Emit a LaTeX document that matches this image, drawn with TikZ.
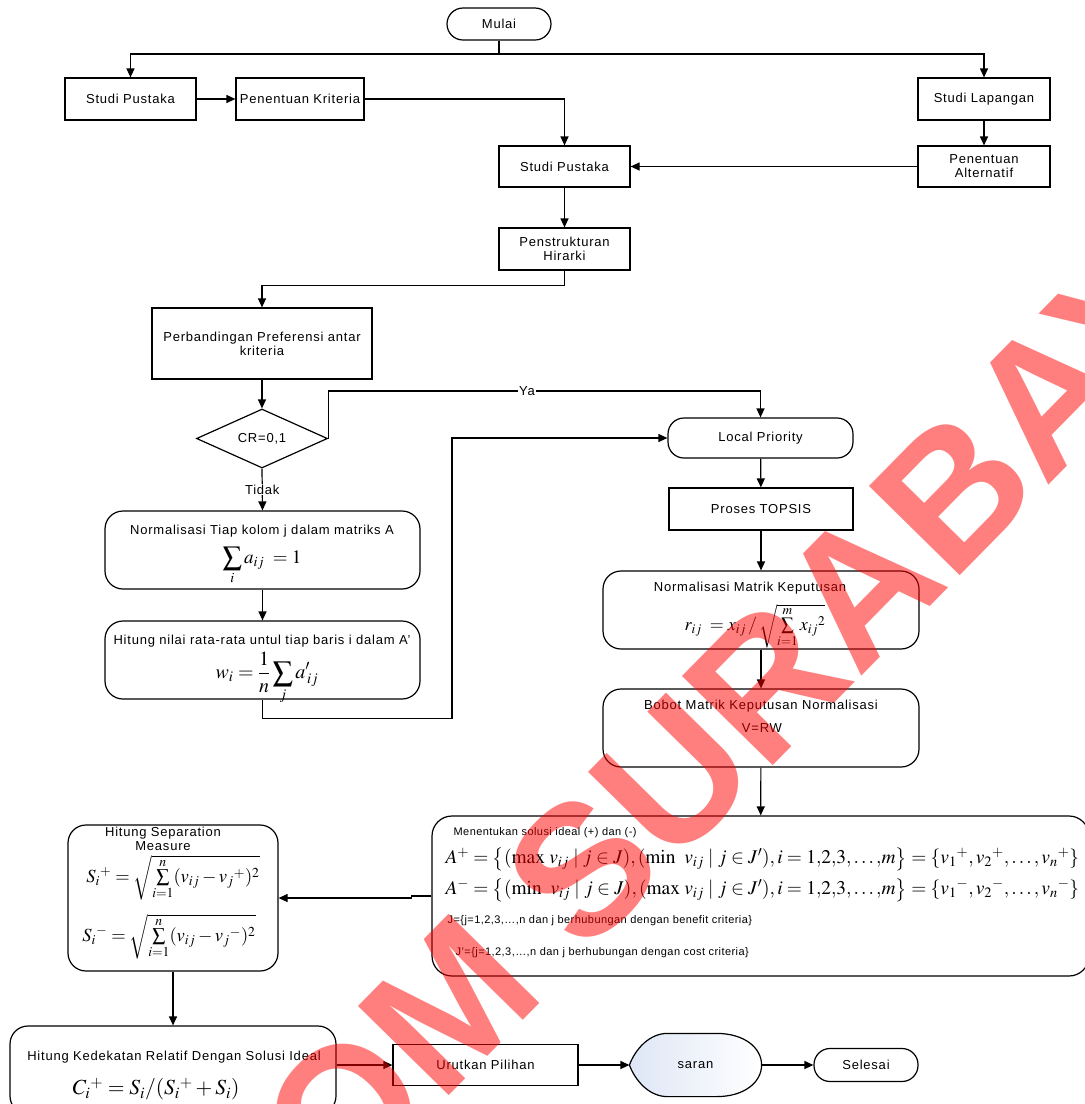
\documentclass[tikz,border=0pt]{standalone}
\usepackage{mathptmx}
\usepackage[no-math]{fontspec}
\setmainfont{Liberation Sans}[LetterSpace=6]
\newfontfamily\smallfont{Liberation Sans}[LetterSpace=4]
\newfontfamily\wmfont{Liberation Sans Bold}
\usetikzlibrary{arrows.meta,shapes.geometric}
\definecolor{sfill}{RGB}{222,230,246}
\begin{document}
\begin{tikzpicture}[x=1pt,y=-1pt,
  line width=1.2pt,
  lab/.style={font=\fontsize{13}{14}\selectfont},
  box/.style={draw, line width=1.2pt, inner sep=0pt, align=center, lab},
  rbox/.style={box, rounded corners=18pt},
  txt/.style={inner sep=0pt, align=center, lab},
  stxt/.style={inner sep=0pt, anchor=west, font=\smallfont\fontsize{11}{13}\selectfont},
  fml/.style={inner sep=0pt, font=\fontsize{#1}{#1}\selectfont},
  arr/.style={-{Triangle[length=9pt,width=8pt]}},
  lbl/.style={fill=white, inner sep=1pt, lab},
  wm/.style={inner sep=0pt, text=red, text opacity=0.5, font=\wmfont\fontsize{185}{185}\selectfont}]
\useasboundingbox (0,0) rectangle (1085,1104);

% top part
\node[box, rounded corners=16pt, minimum width=104, minimum height=32] (mulai) at (499,24) {Mulai};
\node[box, minimum width=131, minimum height=42] (sp1) at (130.5,99) {Studi Pustaka};
\node[box, minimum width=128, minimum height=42] (pk) at (300,99) {Penentuan Kriteria};
\node[box, minimum width=132, minimum height=42] (sl) at (984,99) {Studi Lapangan};
\node[box, minimum width=131, minimum height=41] (sp2) at (564.5,166.5) {Studi Pustaka};
\node[box, minimum width=132, minimum height=41] (pa) at (984,166.5) {Penentuan\\Alternatif};
\node[box, minimum width=131, minimum height=42] (ph) at (564.5,249) {Penstrukturan\\Hirarki};
\node[box, minimum width=220, minimum height=71] (pp) at (262,343.5) {Perbandingan Preferensi antar\\kriteria};
\node[draw, diamond, aspect=2.2, inner sep=0pt, minimum width=131, minimum height=59, lab] (cr) at (262,438.5) {CR=0,1};

% left column
\node[rbox, minimum width=315, minimum height=78] (nk) at (262.5,550) {};
\node[txt] (nkt) at (262,531) {Normalisasi Tiap kolom j dalam matriks A};
\node[fml=19] (nkf) at (262,566) {$\displaystyle\sum_{i} a_{ij}\; = 1$};
\node[rbox, minimum width=315, minimum height=78] (hn) at (262.5,660) {};
\node[txt] (hnt) at (262,641) {Hitung nilai rata-rata untul tiap baris i dalam A’};
\node[fml=20] (hnf) at (267,678) {$\displaystyle w_{i} = \frac{1}{n}\sum_{j} a'_{\,ij}$};

% right column
\node[box, rounded corners=16pt, minimum width=185, minimum height=40] (lp) at (760.5,438) {Local Priority};
\node[box, minimum width=184, minimum height=42] (pt) at (761,509) {Proses TOPSIS};
\node[rbox, minimum width=316, minimum height=78] (nm) at (761,610) {};
\node[txt] (nmt) at (750,588) {Normalisasi Matrik Keputusan};
\node[fml=18] (nmf) at (755,626) {$r_{ij} \;= x_{ij} \,/\, \sqrt{\sum\limits_{i=1}^{m} x_{ij}{}^{2}}$};
\node[rbox, minimum width=316, minimum height=78] (bb) at (761,728) {};
\node[txt] (bbt) at (761,706) {Bobot Matrik Keputusan Normalisasi};
\node[txt] (bbf) at (762,728) {V=RW};

% ideal solution box
\node[rbox, rounded corners=20pt, minimum width=657, minimum height=160] (mn) at (760.5,896) {};
\node[stxt] (mnt) at (453,833) {Menentukan solusi ideal (+) dan (-)};
\node[fml=19.4, anchor=west] (mnf1) at (445,859) {$A^{+} = \bigl\{(\max\, v_{ij} \mid j\in J), (\min\ v_{ij} \mid j\in J'), i = 1{,}2{,}3{,}\ldots{,}m\bigr\} = \{v_{1}{}^{+}, v_{2}{}^{+}, \ldots, v_{n}{}^{+}\}$};
\node[fml=19.4, anchor=west] (mnf2) at (445,890) {$A^{-} = \bigl\{(\min\ v_{ij} \mid j\in J), (\max\, v_{ij} \mid j\in J'), i = 1{,}2{,}3{,}\ldots{,}m\bigr\} = \{v_{1}{}^{-}, v_{2}{}^{-}, \ldots, v_{n}{}^{-}\}$};
\node[stxt] (mnj1) at (447,921) {J=\{j=1,2,3,…,n dan j berhubungan dengan benefit criteria\}};
\node[stxt] (mnj2) at (455,953) {J’=\{j=1,2,3,…,n dan j berhubungan dengan cost criteria\}};

% separation box
\node[rbox, minimum width=210, minimum height=146] (hs) at (173,898) {};
\node[txt] (hst) at (163,839) {Hitung Separation\\Measure};
\node[fml=18.5] (hsf1) at (173,878) {$S_{i}{}^{+} = \sqrt{\sum\limits_{i=1}^{n} (v_{ij} - v_{j}{}^{+})^{2}}$};
\node[fml=18.5] (hsf2) at (169,937) {$S_{i}{}^{-} = \sqrt{\sum\limits_{i=1}^{n} (v_{ij} - v_{j}{}^{-})^{2}}$};

% bottom row
\node[rbox, minimum width=326, minimum height=88] (kd) at (173,1070) {};
\node[txt] (kdt) at (174,1057) {Hitung Kedekatan Relatif Dengan Solusi Ideal};
\node[fml=21.5] (kdf) at (156,1089) {$C_{i}{}^{+} = S_{i} / (S_{i}{}^{+} + S_{i})$};
\node[box, minimum width=185, minimum height=41] (ur) at (485.5,1065) {Urutkan Pilihan};
\node[inner sep=0pt, minimum width=131, minimum height=62, lab] (sr) at (695.5,1065) {};
\path[draw, left color=sfill, right color=white]
  (sr.west) .. controls ([shift={(6,-16)}]sr.west) and ([shift={(20,0)}]sr.north west) .. ([shift={(38,0)}]sr.north west)
  -- ([shift={(-45,0)}]sr.north east)
  .. controls ([shift={(-17,0)}]sr.north east) and ([shift={(0,-17)}]sr.east) .. (sr.east)
  .. controls ([shift={(0,17)}]sr.east) and ([shift={(-17,0)}]sr.south east) .. ([shift={(-45,0)}]sr.south east)
  -- ([shift={(38,0)}]sr.south west)
  .. controls ([shift={(20,0)}]sr.south west) and ([shift={(6,16)}]sr.west) .. (sr.west) -- cycle;
\node[txt] (srt) at (sr) {saran};
\node[box, rounded corners=16pt, minimum width=104, minimum height=33] (sel) at (866,1065) {Selesai};

% connectors
\coordinate (j1) at (499,54);
\coordinate (yk) at (0,391);
\coordinate (jx) at (452,438);
\draw (mulai.south) -- (j1);
\draw[arr] (j1) -| (sp1.north);
\draw[arr] (j1) -| (sl.north);
\draw[arr] (sp1) -- (pk);
\draw[arr] (pk.east) -| (sp2.north);
\draw[arr] (sl) -- (pa);
\draw[arr] (pa) -- (sp2);
\draw[arr] (sp2) -- (ph);
\draw[arr] (ph.south) -- ++(0,15) -| (pp.north);
\draw[arr] (pp) -- (cr);
\draw[arr] (cr.east) -- (cr.east |- yk) -| node[pos=0.23, lbl] {Ya} (lp.north);
\draw[arr] (cr.south) -- node[lbl] {Tidak} (nk.north);
\draw[arr] (nk) -- (hn);
\draw[arr] (hn.south) -- ++(0,19) -| (jx) -- (lp.west);
\draw[arr] (lp) -- (pt);
\draw[arr] (pt) -- (nm);
\draw[arr] (nm) -- (bb);
\draw[arr] (bb) -- (mn);
\draw[arr] (mn.west) -- ++(-20,0) |- (hs.east);
\draw[arr] (hs.south) -- (hs.south |- kd.north);
\draw[arr] (kd.east |- ur.west) -- (ur.west);
\draw[arr] (ur) -- (sr);
\draw[arr] (sr) -- (sel);

% watermark
\node[wm, rotate=45.5, anchor=base] (wmk) at (670,871) {STIKOM SURABAYA};
\end{tikzpicture}
\end{document}
